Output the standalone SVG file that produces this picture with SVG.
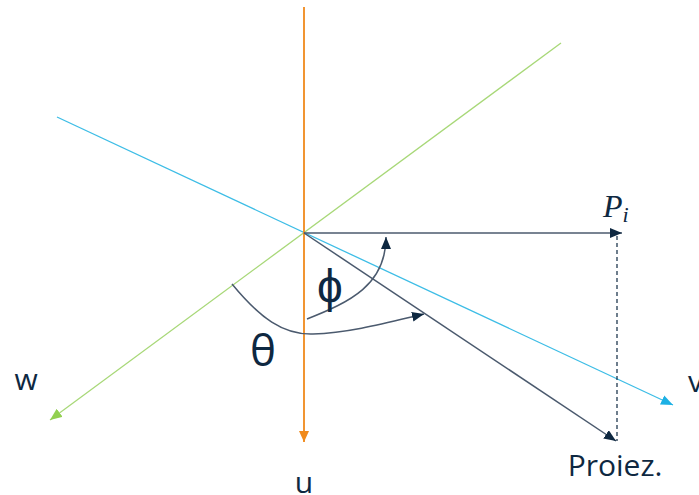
<svg xmlns="http://www.w3.org/2000/svg" width="699" height="495" viewBox="0 0 699 495">
<style>
.lbl{font-family:"Open Sans","Liberation Sans",sans-serif;fill:#0e2841;font-weight:500}
.vec{fill:none;stroke:#4b5a6e;stroke-width:1.5}
</style>
<defs>
<marker id="ah" markerUnits="userSpaceOnUse" markerWidth="14" markerHeight="12" refX="12" refY="5" orient="auto"><path d="M0,0 L12,5 L0,10 z" fill="#0e2841"/></marker>
<marker id="ao" markerUnits="userSpaceOnUse" markerWidth="14" markerHeight="12" refX="11" refY="5" orient="auto"><path d="M0,0 L11,5 L0,10 z" fill="#f08a1c"/></marker>
<marker id="ac" markerUnits="userSpaceOnUse" markerWidth="14" markerHeight="12" refX="12" refY="5" orient="auto"><path d="M0,0 L12,5 L0,10 z" fill="#1cb0e4"/></marker>
<marker id="ag" markerUnits="userSpaceOnUse" markerWidth="14" markerHeight="12" refX="12" refY="5" orient="auto"><path d="M0,0 L12,5 L0,10 z" fill="#92d050"/></marker>
</defs>
<g id="connectors">
<line id="axis-w" x1="561" y1="43" x2="50" y2="420" stroke="#a8d878" stroke-width="1.3" marker-end="url(#ag)"/>
<line id="axis-v" x1="57" y1="117" x2="673" y2="405" stroke="#3dbde6" stroke-width="1.3" marker-end="url(#ac)"/>
<line id="axis-u" x1="304" y1="7" x2="304" y2="442" stroke="#f08a1c" stroke-width="1.8" marker-end="url(#ao)"/>
<line id="vec-p" class="vec" x1="304" y1="233" x2="622" y2="233" marker-end="url(#ah)"/>
<line id="vec-proj" class="vec" x1="304" y1="233" x2="616" y2="441" marker-end="url(#ah)"/>
<line id="drop" x1="617" y1="236" x2="617" y2="441" stroke="#0e2841" stroke-width="1.2" stroke-dasharray="4,3"/>
<path id="arc-phi" class="vec" d="M307,319 C350,302 386,285 386,237" marker-end="url(#ah)"/>
<path id="arc-theta" class="vec" d="M232,284 C260,318 283,335 313,334 C350,333 390,322 424,314" marker-end="url(#ah)"/>
</g>
<g id="label-phi"><text class="lbl" x="330" y="302" font-size="46" text-anchor="middle">ϕ</text></g>
<g id="label-theta"><text class="lbl" x="263" y="366" font-size="44" text-anchor="middle">θ</text></g>
<g id="label-pi"><text x="603" y="217" font-family="'Liberation Serif',serif" font-style="italic" font-size="32" fill="#0e2841">P<tspan font-size="22" dy="5">i</tspan></text></g>
<g id="label-w"><text class="lbl" x="26" y="390" font-size="30" text-anchor="middle">w</text></g>
<g id="label-v"><text class="lbl" x="688" y="392" font-size="30">v</text></g>
<g id="label-u"><text class="lbl" x="304" y="493" font-size="30" text-anchor="middle">u</text></g>
<g id="label-proiez"><text class="lbl" x="615" y="476" font-size="30" text-anchor="middle">Proiez.</text></g>
</svg>
